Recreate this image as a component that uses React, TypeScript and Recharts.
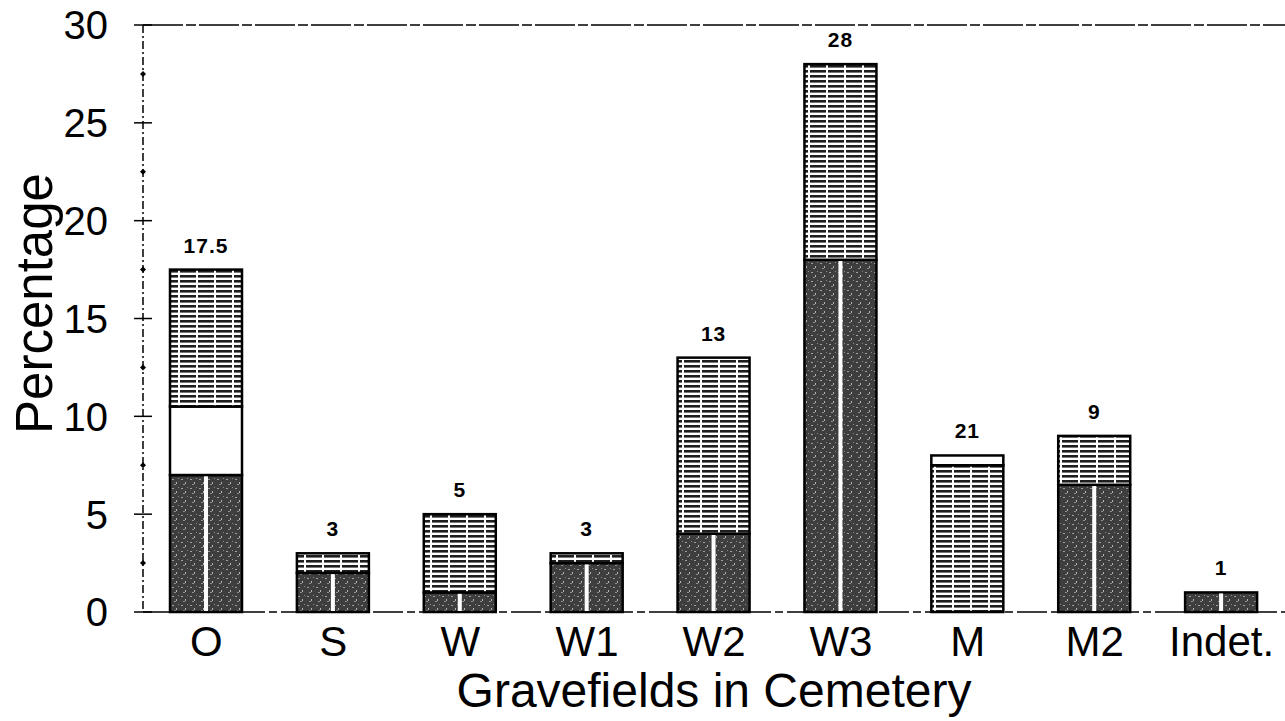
import { BarChart, Bar, XAxis, YAxis, ReferenceLine, LabelList, Label } from "recharts"

const categories = ["O", "S", "W", "W1", "W2", "W3", "M", "M2", "Indet."]
const darkValues = [7, 2, 1, 2.5, 4, 18, 0, 6.5, 1]
const whiteValues = [3.5, 0, 0, 0, 0, 0, 0, 0, 0]
const stripedValues = [7, 1, 4, 0.5, 9, 10, 7.5, 2.5, 0]
const whiteTopValues = [0, 0, 0, 0, 0, 0, 0.5, 0, 0]
const topLabels = ["17.5", "3", "5", "3", "13", "28", "21", "9", "1"]
const yTicks = [0, 2.5, 5, 7.5, 10, 12.5, 15, 17.5, 20, 22.5, 25, 27.5, 30]

const chartData = categories.map((name, i) => ({
  name,
  dark: darkValues[i],
  white: whiteValues[i],
  striped: stripedValues[i],
  whiteTop: whiteTopValues[i],
  label: topLabels[i],
}))

const FONT = "'Liberation Sans', Arial, sans-serif"

function makeShape(fill: string, divider: boolean) {
  return (props: any) => {
    const { x, y, width, height } = props
    if (!height || height <= 0) return <g />
    return (
      <g>
        <rect x={x} y={y} width={width} height={height} fill={fill} stroke="#000" strokeWidth={2.5} />
        {divider && (
          <rect x={x + width / 2 - 2} y={y + 1} width={4} height={height - 2} fill="#fff" />
        )}
      </g>
    )
  }
}

function YTick(props: any) {
  const { x, y, payload } = props
  const major = payload.value % 5 === 0
  return (
    <g>
      {major ? (
        <line x1={x - 9} x2={x + 9} y1={y} y2={y} stroke="#000" strokeWidth={1.5} />
      ) : (
        <path d={`M${x - 3} ${y} L${x} ${y - 3} L${x + 3} ${y} L${x} ${y + 3} Z`} fill="#000" />
      )}
      {major && (
        <text x={x - 35} y={y} dy="0.36em" textAnchor="end" fontSize={40} fontFamily={FONT} fill="#000">
          {payload.value}
        </text>
      )}
    </g>
  )
}

// rotated y title, nudged a bit above the plot's middle like the original
function YTitle(props: any) {
  const { viewBox } = props
  const cx = viewBox.x + 52
  const cy = viewBox.y + viewBox.height / 2 - 15
  return (
    <text
      transform={`translate(${cx},${cy}) rotate(-90)`}
      textAnchor="middle"
      fontSize={51}
      fontFamily={FONT}
      fill="#000"
    >
      Percentage
    </text>
  )
}

export default function App() {
  return (
    <div style={{ position: "absolute", left: 0, top: 0, background: "#fff" }}>
      <BarChart
        width={1285}
        height={721}
        data={chartData}
        margin={{ top: 25, right: 0, left: 0, bottom: 0 }}
        barSize={72}
      >
        <defs>
          <pattern id="darkFill" width="9" height="9" patternUnits="userSpaceOnUse">
            <rect width="9" height="9" fill="#3e3e3e" />
            <rect x="1" y="2" width="2" height="1" fill="#a0a0a0" />
            <rect x="5" y="5" width="1" height="2" fill="#b4b4b4" />
            <rect x="7" y="1" width="1" height="1" fill="#8c8c8c" />
            <rect x="3" y="7" width="2" height="1" fill="#909090" />
          </pattern>
          <pattern id="stripeFill" width="18" height="5" patternUnits="userSpaceOnUse">
            <rect width="18" height="5" fill="#fff" />
            <rect x="0" y="0" width="16" height="2.6" fill="#1e1e1e" />
          </pattern>
        </defs>
        <ReferenceLine y={30} stroke="#000" strokeWidth={1.5} strokeDasharray="40 3 10 3" />
        <XAxis
          dataKey="name"
          axisLine={{ stroke: "#000", strokeWidth: 1.5, strokeDasharray: "30 4 8 4" }}
          tickLine={false}
          tickMargin={8}
          tick={{ fontSize: 42, fill: "#000", fontFamily: FONT }}
          height={109}
        >
          <Label
            value="Gravefields in Cemetery"
            position="insideBottom"
            offset={14}
            style={{ fontSize: 48, fill: "#000", fontFamily: FONT }}
          />
        </XAxis>
        <YAxis
          width={143}
          domain={[0, 30]}
          ticks={yTicks}
          interval={0}
          tickSize={0}
          tickMargin={0}
          tickLine={false}
          axisLine={{ stroke: "#000", strokeWidth: 1.5, strokeDasharray: "8 3 2 3" }}
          tick={<YTick />}
        >
          <Label content={<YTitle />} />
        </YAxis>
        <Bar dataKey="dark" stackId="a" isAnimationActive={false} shape={makeShape("url(#darkFill)", true)} />
        <Bar dataKey="white" stackId="a" isAnimationActive={false} shape={makeShape("#fff", false)} />
        <Bar dataKey="striped" stackId="a" isAnimationActive={false} shape={makeShape("url(#stripeFill)", false)} />
        <Bar dataKey="whiteTop" stackId="a" isAnimationActive={false} shape={makeShape("#fff", false)}>
          <LabelList
            dataKey="label"
            position="top"
            offset={17}
            style={{ fontSize: 21, fontWeight: "bold", fill: "#000", fontFamily: FONT, letterSpacing: 1 }}
          />
        </Bar>
      </BarChart>
    </div>
  )
}
